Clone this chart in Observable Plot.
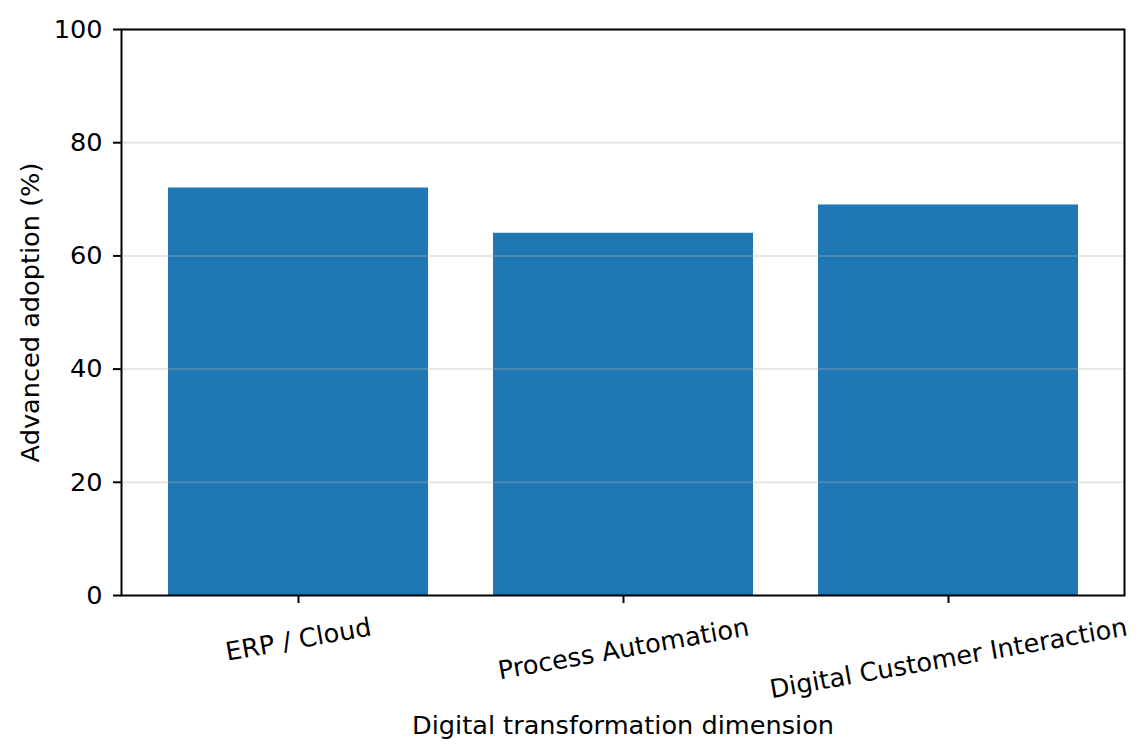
<!DOCTYPE html>
<html><head><meta charset="utf-8">
<script src="https://cdn.jsdelivr.net/npm/d3@7"></script>
<script src="https://cdn.jsdelivr.net/npm/@observablehq/plot@0.6"></script>
<style>body{margin:0;background:#fff;}</style>
</head><body><div id="chart"></div>
<script>
const categories = ["ERP / Cloud", "Process Automation", "Digital Customer Interaction"];
const adoption = [72, 64, 69];
const yTicks = [0, 20, 40, 60, 80, 100];
const gridTicks = [20, 40, 60, 80, 100];
const xLabel = "Digital transformation dimension";
const yLabel = "Advanced adoption (%)";

const data = categories.map((c, i) => ({category: c, value: adoption[i]}));
const font = "DejaVu Sans";
const fs = 25.6;
const ctx = document.createElement("canvas").getContext("2d");
ctx.font = `${fs}px "${font}"`;
const rot = 10 * Math.PI / 180;
const lineH = fs * 1.164;
function labelDy(t) {
  const w = ctx.measureText(t).width;
  return 8 + 9 + (w * Math.sin(rot) + lineH * Math.cos(rot)) / 2;
}

const chart = Plot.plot({
  width: 1147,
  height: 756,
  marginLeft: 121,
  marginRight: 23,
  marginTop: 29,
  marginBottom: 161,
  style: {fontFamily: font, fontSize: fs + "px", background: "#fff", color: "#000"},
  x: {domain: categories, paddingInner: 0.2, paddingOuter: 0.14, axis: null},
  y: {domain: [0, 100], axis: null},
  marks: [
    Plot.barY(data, {x: "category", y: "value", fill: "#1f77b4"}),
    Plot.gridY(gridTicks, {stroke: "#b0b0b0", strokeOpacity: 0.3, strokeWidth: 2}),
    Plot.frame({stroke: "#000", strokeWidth: 2}),
    Plot.axisY(yTicks, {tickSize: 8, tickPadding: 11, strokeWidth: 2, fontSize: fs, label: null, tickFormat: d => String(d)}),
    Plot.axisX({tickSize: 8, strokeWidth: 2, tickFormat: () => "", label: null}),
    ...categories.map(c => Plot.text([c], {
      x: d => d, text: d => d, frameAnchor: "bottom", dy: labelDy(c),
      rotate: -10, textAnchor: "middle", lineAnchor: "middle", fontSize: fs, fill: "#000"
    })),
    Plot.text([xLabel], {frameAnchor: "bottom", dy: 138, lineAnchor: "bottom", textAnchor: "middle", fontSize: fs, fill: "#000"}),
    Plot.text([yLabel], {frameAnchor: "left", dx: -91, rotate: -90, lineAnchor: "middle", textAnchor: "middle", fontSize: fs, fill: "#000"})
  ]
});
document.getElementById("chart").appendChild(chart);
</script>
</body></html>
